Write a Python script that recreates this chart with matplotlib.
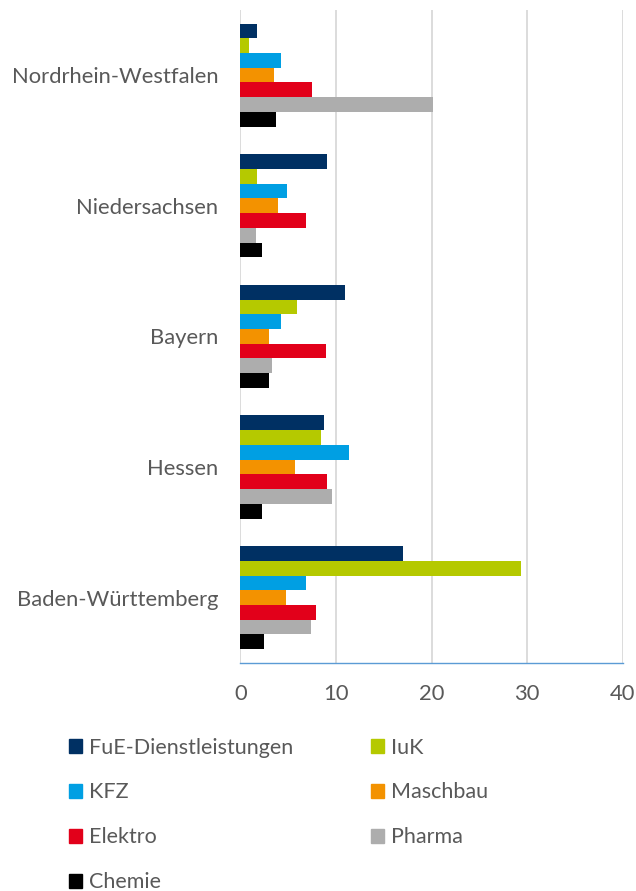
import numpy as np
import matplotlib
matplotlib.use("Agg")
import matplotlib.pyplot as plt
from matplotlib.patches import Patch

# Werte je Bundesland (von unten nach oben im Diagramm)
laender = ["Baden-Württemberg", "Hessen", "Bayern", "Niedersachsen", "Nordrhein-Westfalen"]

branchen = ["FuE-Dienstleistungen", "IuK", "KFZ", "Maschbau", "Elektro", "Pharma", "Chemie"]
farben = ["#003063", "#B5C900", "#009FE3", "#F39200", "#E2001A", "#ADADAD", "#000000"]

fue = [17.0, 8.7, 10.9, 9.1, 1.7]
iuk = [29.4, 8.4, 5.9, 1.7, 0.9]
kfz = [6.9, 11.4, 4.2, 4.9, 4.2]
maschbau = [4.8, 5.7, 3.0, 3.9, 3.5]
elektro = [7.9, 9.1, 9.0, 6.9, 7.5]
pharma = [7.4, 9.6, 3.3, 1.6, 20.2]
chemie = [2.5, 2.3, 3.0, 2.3, 3.7]

werte = [fue, iuk, kfz, maschbau, elektro, pharma, chemie]

text_farbe = "#595959"
plt.rcParams['font.family'] = ['Lato', 'DejaVu Sans']

fig = plt.figure(figsize=(6.36, 8.91), dpi=100)
ax = fig.add_axes([0.378, 0.256, 0.601, 0.733])

y = np.arange(len(laender))
h = 0.789 / len(branchen)

for i, (name, vals, col) in enumerate(zip(branchen, werte, farben)):
	ax.barh(y + (3 - i) * h, vals, height=h, color=col, label=name)

ax.set_xlim(0, 40)
ax.set_ylim(-0.5, len(laender) - 0.5)
ax.set_xticks([0, 10, 20, 30, 40])
ax.set_yticks(y)
ax.set_yticklabels(laender)

ax.grid(axis='x', color='#D9D9D9', linewidth=1.3)
ax.set_axisbelow(True)
for s in ['top', 'right', 'left']:
	ax.spines[s].set_visible(False)
ax.spines['bottom'].set_color('#5B9BD5')
ax.spines['bottom'].set_linewidth(1.0)

ax.tick_params(axis='both', length=0, labelsize=15.8, labelcolor=text_farbe)
ax.tick_params(axis='y', pad=16)
ax.tick_params(axis='x', pad=15)

# Legende zeilenweise wie im Original
handles = [Patch(color=c) for c in farben]
order = [0, 2, 4, 6, 1, 3, 5]
leg = fig.legend([handles[k] for k in order], [branchen[k] for k in order],
	ncol=2, loc='upper left', bbox_to_anchor=(0.0777, 0.194),
	frameon=False, fontsize=15.5, handlelength=0.62, handleheight=0.62,
	handletextpad=0.31, labelspacing=1.16, columnspacing=3.6)
for t in leg.get_texts():
	t.set_color(text_farbe)

fig.savefig("out.png", dpi=100)
